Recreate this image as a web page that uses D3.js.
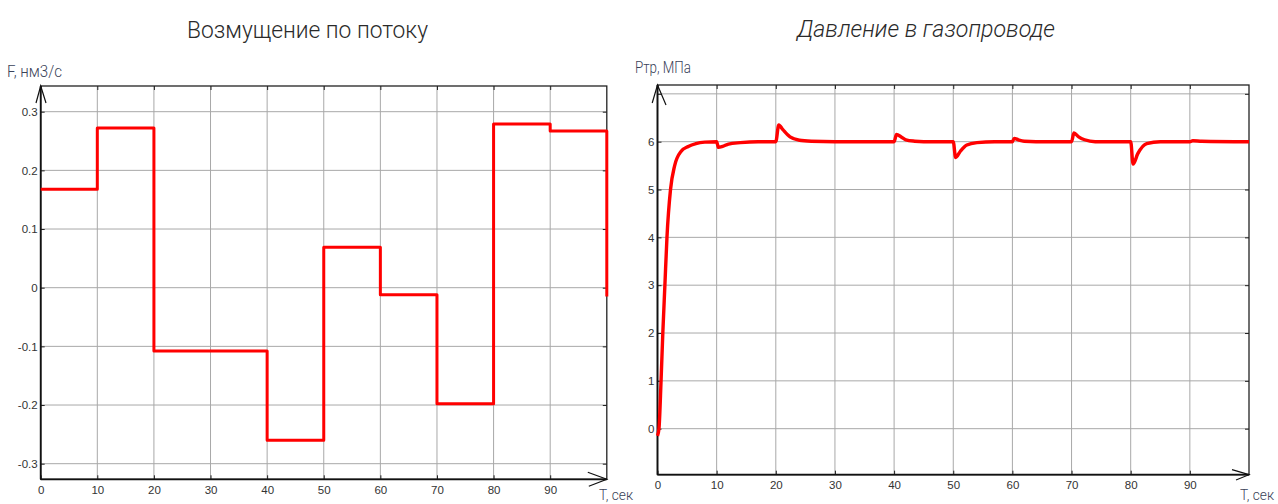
<!DOCTYPE html>
<html><head><meta charset="utf-8">
<script src="https://cdn.jsdelivr.net/npm/d3@7"></script>
<style>body{margin:0;background:#fff;overflow:hidden} svg{display:block}</style>
</head><body><svg id="c" width="1278" height="504"></svg>
<script>
// ---------- data ----------
const flowTitle = "Возмущение по потоку";
const pressTitle = "Давление в газопроводе";
const flowYLabel = "F, нм3/с";
const pressYLabel = "Ртр, МПа";
const xLabel = "Т, сек";

const flowTimes  = [0, 10, 20, 40, 50, 60, 70, 80, 90, 100];
const flowValues = [0.168, 0.272, -0.108, -0.26, 0.069, -0.012, -0.198, 0.279, 0.267, -0.015];

const pressTimes  = [0, 0.25, 0.6, 0.9, 1.25, 1.6, 2.2, 2.9, 4.0, 5.2, 6.5, 8, 10,
  10.3, 11, 12, 14, 17, 20, 20.5, 21.2, 22.4, 24, 26, 30, 40, 40.4, 41.2, 42, 43.5, 45,
  50, 50.4, 51.2, 52.3, 54, 57, 60, 60.3, 61, 62, 64, 70, 70.4, 71.2, 72.2, 74,
  80, 80.4, 81.2, 82.7, 85, 90, 90.5, 92, 100];
const pressValues = [-0.15, 0, 1, 2, 3, 4, 5, 5.5, 5.8, 5.9, 5.96, 5.99, 6.0,
  5.88, 5.9, 5.95, 5.98, 6.0, 6.0, 6.35, 6.25, 6.1, 6.03, 6.01, 6.0, 6.0, 6.15, 6.1, 6.04, 6.01, 6.0,
  6.0, 5.67, 5.8, 5.93, 5.98, 6.0, 6.0, 6.07, 6.04, 6.01, 6.0, 6.0, 6.18, 6.1, 6.04, 6.0,
  6.0, 5.53, 5.75, 5.96, 6.0, 6.0, 6.02, 6.01, 6.0];

const timeTicks  = [0, 10, 20, 30, 40, 50, 60, 70, 80, 90];
const flowTicks  = [-0.3, -0.2, -0.1, 0, 0.1, 0.2, 0.3];
const pressTicks = [0, 1, 2, 3, 4, 5, 6];
const pressGrid  = [0, 1, 2, 3, 4, 5, 6, 7];

// ---------- drawing ----------
const svg = d3.select("#c");
const tickFont = "'Liberation Sans', Arial, sans-serif";
const thinFont = "Roboto, 'Open Sans', sans-serif";

function panel(cfg) {
  const {l, r, t, b} = cfg.box;
  const x = d3.scaleLinear().domain([0, 100]).range([l, r]);
  const y = d3.scaleLinear().domain(cfg.yDomain).range([b, t]);
  const g = svg.append("g");

  // grid
  g.append("g").selectAll("line").data(timeTicks.filter(d => d > 0)).join("line")
    .attr("x1", d => x(d)).attr("x2", d => x(d)).attr("y1", t).attr("y2", b)
    .attr("stroke", "#a8a8a8").attr("stroke-width", 1);
  g.append("g").selectAll("line").data(cfg.gridY).join("line")
    .attr("x1", l).attr("x2", r).attr("y1", d => y(d)).attr("y2", d => y(d))
    .attr("stroke", "#a8a8a8").attr("stroke-width", 1);

  // inner ticks on all four sides
  const rm = s => s.select(".domain").remove();
  g.append("g").attr("transform", `translate(${l},0)`)
    .call(d3.axisLeft(y).tickValues(cfg.gridY).tickSize(-4).tickFormat("")).call(rm);
  g.append("g").attr("transform", `translate(${r},0)`)
    .call(d3.axisRight(y).tickValues(cfg.gridY).tickSize(-4).tickFormat("")).call(rm);
  g.append("g").attr("transform", `translate(0,${b})`)
    .call(d3.axisBottom(x).tickValues(timeTicks).tickSize(-4).tickFormat("")).call(rm);
  g.append("g").attr("transform", `translate(0,${t})`)
    .call(d3.axisTop(x).tickValues(timeTicks).tickSize(-4).tickFormat("")).call(rm);
  g.selectAll(".tick line").attr("stroke", "#222");

  // tick labels
  const fmt = d => (+d.toFixed(2)).toString();
  const ya = g.append("g").attr("transform", `translate(${l},0)`)
    .call(d3.axisLeft(y).tickValues(cfg.labelY).tickSize(0).tickPadding(3).tickFormat(fmt)).call(rm);
  const xa = g.append("g").attr("transform", `translate(0,${b})`)
    .call(d3.axisBottom(x).tickValues(timeTicks).tickSize(0).tickPadding(6.5).tickFormat(fmt)).call(rm);
  [ya, xa].forEach(a => a.selectAll("text").attr("font-family", tickFont).attr("font-size", 11.5).attr("fill", "#333"));

  // frame
  g.append("rect").attr("x", l).attr("y", t).attr("width", r - l).attr("height", b - t)
    .attr("fill", "none").attr("stroke", "#222").attr("stroke-width", 1.3);
  g.append("line").attr("x1", l).attr("x2", l).attr("y1", t).attr("y2", b).attr("stroke", "#111").attr("stroke-width", 1.8);
  g.append("line").attr("x1", l).attr("x2", r).attr("y1", b).attr("y2", b).attr("stroke", "#111").attr("stroke-width", 1.8);

  // arrows
  const ay = cfg.arrowY, ax = cfg.arrowX;
  g.append("path").attr("d", `M${l + ay[0][0]},${t + ay[0][1]}L${l},${t}L${l + ay[1][0]},${t + ay[1][1]}`)
    .attr("fill", "none").attr("stroke", "#111").attr("stroke-width", 1.2);
  g.append("path").attr("d", `M${r + ax[0][0]},${b + ax[0][1]}L${r},${b}L${r + ax[1][0]},${b + ax[1][1]}`)
    .attr("fill", "none").attr("stroke", "#111").attr("stroke-width", 1.2);

  // data line
  const line = d3.line().x((d, i) => x(cfg.xs[i])).y(d => y(d)).curve(cfg.curve);
  g.append("path").datum(cfg.ys).attr("d", line)
    .attr("fill", "none").attr("stroke", "#ff0000").attr("stroke-width", cfg.lw)
    .attr("stroke-linejoin", "round").attr("stroke-linecap", "butt");

  // labels
  const txt = (s, px, py, size, len, extra) => {
    const e = svg.append("text").text(s).attr("x", px).attr("y", py)
      .attr("font-family", thinFont).attr("font-weight", 300).attr("font-size", size)
      .attr("fill", extra.fill || "#333")
      .attr("textLength", len).attr("lengthAdjust", "spacingAndGlyphs");
    if (extra.italic) e.attr("font-style", "italic");
    return e;
  };
  txt(cfg.title, cfg.titlePos[0], cfg.titlePos[1], 24, cfg.titleLen, {fill: "#2a2a2a", italic: cfg.italic});
  txt(cfg.yLabel, cfg.yLabelPos[0], cfg.yLabelPos[1], 16, cfg.yLabelLen, {fill: "#3a4258"});
  txt(xLabel, cfg.xLabelPos[0], cfg.xLabelPos[1], 15, 34, {fill: "#3a4258"});
}

panel({
  box: {l: 40.7, r: 606.8, t: 86, b: 479.3},
  yDomain: [-0.3266, 0.3438],
  gridY: flowTicks, labelY: flowTicks,
  xs: flowTimes, ys: flowValues, curve: d3.curveStepAfter, lw: 3,
  arrowY: [[-4.7, 17], [5.3, 17]], arrowX: [[-19, -7], [-18, 7]],
  title: flowTitle, titlePos: [187, 37.5], titleLen: 241, italic: false,
  yLabel: flowYLabel, yLabelPos: [7, 76.5], yLabelLen: 55,
  xLabelPos: [599, 500]
});

panel({
  box: {l: 657.5, r: 1249, t: 85, b: 474.7},
  yDomain: [-0.962, 7.185],
  gridY: pressGrid, labelY: pressTicks,
  xs: pressTimes, ys: pressValues, curve: d3.curveMonotoneX, lw: 3.4,
  arrowY: [[-5.3, 18], [8.5, 20]], arrowX: [[-17, -5], [-13, 5.3]],
  title: pressTitle, titlePos: [797, 37], titleLen: 258, italic: true,
  yLabel: pressYLabel, yLabelPos: [635, 72.5], yLabelLen: 56,
  xLabelPos: [1240, 500]
});
</script></body></html>
